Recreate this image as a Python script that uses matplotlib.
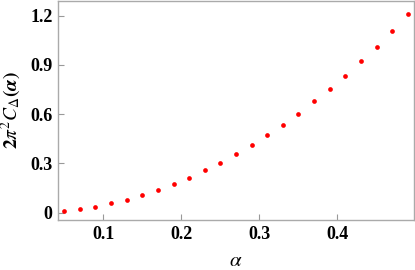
import numpy as np
import matplotlib.pyplot as plt

plt.rcParams['font.family'] = 'Liberation Serif'
plt.rcParams['mathtext.fontset'] = 'stix'

alpha = [0.05, 0.07, 0.09, 0.11, 0.13, 0.15, 0.17, 0.19, 0.21, 0.23, 0.25, 0.27,
         0.29, 0.31, 0.33, 0.35, 0.37, 0.39, 0.41, 0.43, 0.45, 0.47, 0.49]
cDelta = [0.010, 0.021, 0.037, 0.057, 0.079, 0.108, 0.138, 0.175, 0.213, 0.259, 0.305, 0.358,
          0.413, 0.473, 0.537, 0.604, 0.679, 0.754, 0.835, 0.923, 1.012, 1.108, 1.210]
xTicks = [0.1, 0.2, 0.3, 0.4]
yTicks = [0, 0.3, 0.6, 0.9, 1.2]
yTickLabels = ['0', '0.3', '0.6', '0.9', '1.2']

fig = plt.figure(figsize=(4.15, 2.7), dpi=100)
ax = fig.add_axes([58 / 415, 50 / 270, 356 / 415, 219 / 270])
ax.plot(alpha, cDelta, 'o', color='red', markersize=3.4, markeredgewidth=0)

ax.set_xlim(0.042, 0.498)
ax.set_ylim(-0.045, 1.29)
ax.set_xticks(xTicks)
ax.set_xticklabels(['0.1', '0.2', '0.3', '0.4'], fontweight='bold', fontsize=13)
ax.set_yticks(yTicks)
ax.set_yticklabels(yTickLabels, fontweight='bold', fontsize=13)
ax.tick_params(direction='in', length=4, width=0.8, color='#999999', pad=4)

for s in ax.spines.values():
    s.set_color('#aaaaaa')
    s.set_linewidth(1.0)

ax.set_xlabel(r'$\alpha$', fontsize=15, labelpad=7)
ax.set_ylabel(r'$\boldsymbol{2\pi^{2} C_{\Delta}(\alpha)}$', fontsize=14, labelpad=5)

fig.savefig('out.png', dpi=100)
